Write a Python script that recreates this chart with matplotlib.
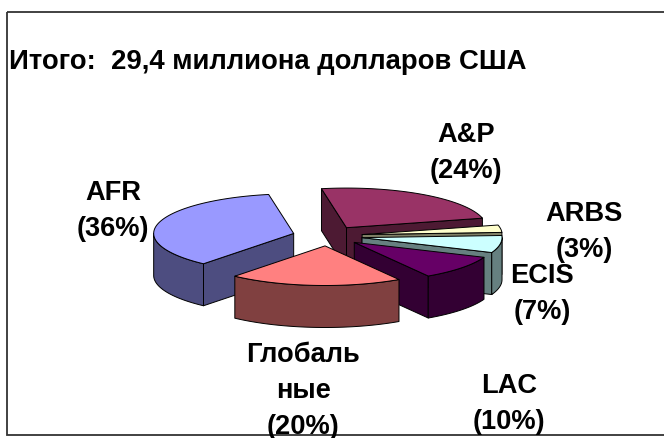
import numpy as np
import matplotlib
matplotlib.use("Agg")
import matplotlib.pyplot as plt
from matplotlib.patches import Polygon, Rectangle

# Data (clockwise from the starting angle)
categories = ["A&P", "ARBS", "ECIS", "LAC", "Глобаль\nные", "AFR"]
values = [24, 3, 7, 10, 20, 36]
top_colors = ["#993366", "#FFFFCC", "#CCFFFF", "#660066", "#FF8080", "#9999FF"]
side_colors = ["#4D1A33", "#808066", "#668080", "#330033", "#804040", "#4D4D80"]
title = "Итого:  29,4 миллиона долларов США"

# Pie geometry (pixel space of the figure)
W, H = 664, 439
CX, CY, R, K, DEPTH, EXPL, START = 327.5, 237.0, 140.0, 0.283, 42.0, 0.25, -10.3
FRAME = (6.5, 12.5, 672, 436.5)
label_pos = [(466, 153), (584, 232), (542, 294), (509, 404), (303, 391), (113, 211)]

plt.rcParams['font.family'] = ['Liberation Sans', 'DejaVu Sans']
fig = plt.figure(figsize=(W / 100, H / 100), dpi=100)
ax = fig.add_axes([0, 0, 1, 1])
ax.set_xlim(0, W)
ax.set_ylim(H, 0)
ax.axis('off')

frame = Rectangle((FRAME[0], FRAME[1]), FRAME[2] - FRAME[0], FRAME[3] - FRAME[1],
                  fill=False, ec="#333333", lw=1.3, zorder=50)
ax.add_patch(frame)
clip = Rectangle((FRAME[0], FRAME[1]), FRAME[2] - FRAME[0], FRAME[3] - FRAME[1],
                 transform=ax.transData)

def pt(ox, oy, deg):
    a = np.radians(deg)
    return ox + R * np.sin(a), oy - R * K * np.cos(a)

fracs = np.array(values, dtype=float) / sum(values)
edges = START + 360 * np.concatenate([[0], np.cumsum(fracs)])
draw_order = [0, 1, 2, 3, 5, 4]
z = 1
for i in draw_order:
    a1, a2 = edges[i], edges[i + 1]
    mid = np.radians((a1 + a2) / 2)
    ox = CX + EXPL * R * np.sin(mid)
    oy = CY - EXPL * R * K * np.cos(mid)
    style = dict(ec="black", lw=0.7, joinstyle='round')
    walls = []
    if np.sin(np.radians(a1)) < 0:
        walls.append(a1)
    if np.sin(np.radians(a2)) > 0:
        walls.append(a2)
    for w in walls:
        px, py = pt(ox, oy, w)
        ax.add_patch(Polygon([(ox, oy), (px, py), (px, py + DEPTH), (ox, oy + DEPTH)],
                             fc=side_colors[i], zorder=z, **style))
        z += 1
    # outer rim: the part of the arc facing the viewer (90..270 deg)
    lo = max(a1, 90)
    hi = min(a2, 270)
    if lo < hi:
        t = np.linspace(lo, hi, 60)
        xs, ys = pt(ox, oy, t)
        poly = np.column_stack([np.r_[xs, xs[::-1]], np.r_[ys, ys[::-1] + DEPTH]])
        ax.add_patch(Polygon(poly, fc=side_colors[i], zorder=z, **style))
        z += 1
    t = np.linspace(a1, a2, 120)
    xs, ys = pt(ox, oy, t)
    poly = np.column_stack([np.r_[ox, xs], np.r_[oy, ys]])
    ax.add_patch(Polygon(poly, fc=top_colors[i], zorder=z, **style))
    z += 1

ax.text(9, 62, title, fontsize=19.8, fontweight='bold', va='center', ha='left', zorder=60)
for name, v, (x, y) in zip(categories, values, label_pos):
    t = ax.text(x, y, f"{name}\n({v}%)", fontsize=19.6, fontweight='bold',
                ha='center', va='center', linespacing=1.52, zorder=60)
    t.set_clip_path(clip)

fig.savefig("out.png", dpi=100)
